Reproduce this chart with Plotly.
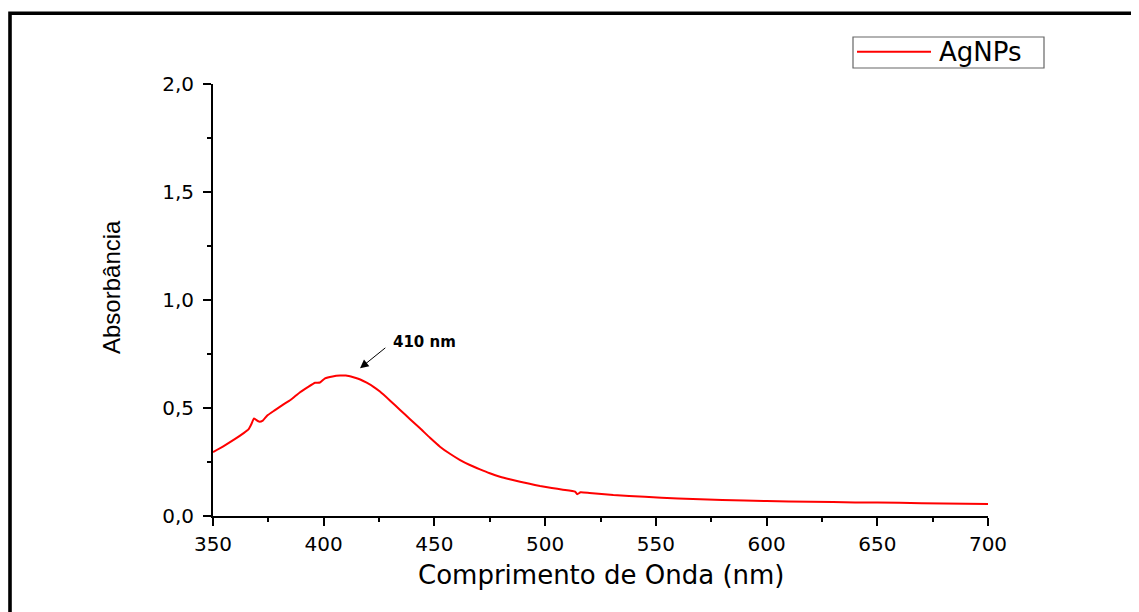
import plotly.graph_objects as go

# Data
wavelength = [350, 355, 360, 364, 366, 367.3, 368.5, 369.5, 370.8, 372.5, 374.5, 378, 382, 385,
              389.3, 393, 396.1, 398.3, 400.6, 404, 407.4, 410, 413.4, 416.5, 419.4, 422.5,
              425.4, 430, 434.5, 439, 443.5, 448, 452.5, 457, 461.6, 466, 470.6, 475, 479.6,
              484, 488.7, 493, 497.7, 503, 508, 513.5, 514.5, 516, 520, 530.8, 545, 560, 580,
              600, 620, 640, 660, 680, 700]
absorbance = [0.296, 0.325, 0.357, 0.385, 0.401, 0.425, 0.452, 0.445, 0.437, 0.442, 0.465, 0.49,
              0.518, 0.537, 0.573, 0.598, 0.617, 0.618, 0.637, 0.646, 0.650, 0.650, 0.642, 0.632,
              0.617, 0.598, 0.576, 0.534, 0.491, 0.448, 0.406, 0.362, 0.321, 0.288, 0.259, 0.236,
              0.216, 0.198, 0.182, 0.170, 0.159, 0.149, 0.139, 0.130, 0.122, 0.113, 0.101, 0.110,
              0.107, 0.097, 0.089, 0.081, 0.074, 0.069, 0.066, 0.063, 0.061, 0.058, 0.056]
series_name = "AgNPs"
peak_label = "410 nm"
x_ticks = [350, 400, 450, 500, 550, 600, 650, 700]
y_ticks = [0.0, 0.5, 1.0, 1.5, 2.0]

W, H = 1139, 612
OFF = 8  # page body margin offset
L, R, T, B = 213 - OFF, 151 + OFF, 84 - OFF, 96 + OFF
pw, ph = W - L - R, H - T - B

def px(x):  # screen pixel x -> paper
    return (x - OFF - L) / pw

def py(y):  # screen pixel y -> paper
    return (H - B - (y - OFF)) / ph

fig = go.Figure()
fig.add_trace(go.Scatter(x=wavelength, y=absorbance, mode="lines", name=series_name,
                         line=dict(color="#ff0000", width=2, shape="spline", smoothing=0.4),
                         showlegend=False))

axis_common = dict(showgrid=False, zeroline=False, showline=True, linecolor="black", linewidth=2,
                   ticks="outside", ticklen=8, tickwidth=2, tickcolor="black",
                   tickfont=dict(family="DejaVu Sans", size=20, color="black"))

fig.update_xaxes(range=[350, 700], tickvals=x_ticks, ticktext=[str(v) for v in x_ticks],
                 minor=dict(ticks="outside", ticklen=4, tickwidth=2, tickcolor="black", dtick=25),
                 ticklabelstandoff=1, **axis_common)
fig.update_yaxes(range=[0, 2.0], tickvals=y_ticks, tickformat=".1f",
                 minor=dict(ticks="outside", ticklen=4, tickwidth=2, tickcolor="black", dtick=0.25),
                 ticklabelstandoff=5, **axis_common)

# Frame lines (top and left)
fx0 = px(10)
fy0 = py(13.3)
fig.add_shape(type="path", xref="paper", yref="paper",
              path=f"M {fx0},{py(640)} L {fx0},{fy0} L {px(1160)},{fy0}",
              line=dict(color="black", width=3.6))

# Legend box drawn manually
fig.add_shape(type="rect", xref="paper", yref="paper",
              x0=px(853), x1=px(1044), y0=py(68), y1=py(37),
              line=dict(color="#666666", width=1.2), fillcolor="white")
fig.add_shape(type="line", xref="paper", yref="paper",
              x0=px(857), x1=px(931), y0=py(51.7), y1=py(51.7),
              line=dict(color="#ff0000", width=2))

annotations = [
    dict(text=series_name, xref="paper", yref="paper", x=px(937), y=py(52),
         xanchor="left", yanchor="middle", showarrow=False,
         font=dict(family="DejaVu Sans", size=26, color="black")),
    dict(text="Comprimento de Onda (nm)", xref="paper", yref="paper", x=px(601), y=py(575),
         xanchor="center", yanchor="middle", showarrow=False,
         font=dict(family="DejaVu Sans", size=26, color="black")),
    dict(text="Absorbância", xref="paper", yref="paper", x=px(111), y=py(287),
         xanchor="center", yanchor="middle", showarrow=False, textangle=-90,
         font=dict(family="Arial, Liberation Sans", size=24, color="black")),
    dict(text="", x=416.4, y=0.684, ax=428.5, ay=0.784, axref="x", ayref="y",
         showarrow=True, arrowhead=2, arrowsize=1.7, arrowwidth=1, arrowcolor="black"),
    dict(text="<b>" + peak_label + "</b>", x=430.4, y=0.807, xanchor="left", yanchor="middle",
         showarrow=False, font=dict(family="DejaVu Sans", size=15, color="black")),
]

fig.update_layout(width=W, height=H, autosize=False,
                  margin=dict(l=L, r=R, t=T, b=B, pad=0),
                  plot_bgcolor="white", paper_bgcolor="white",
                  separators=", ", annotations=annotations, showlegend=False)

fig.write_html("out.html")
